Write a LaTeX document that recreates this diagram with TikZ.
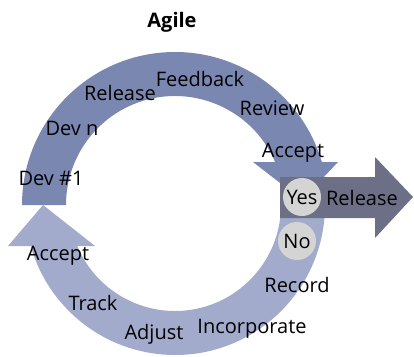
\documentclass[tikz,border=0pt]{standalone}
\usepackage{fontspec}
\setmainfont{Open Sans}
\definecolor{topblue}{HTML}{7A87B0}
\definecolor{lowblue}{HTML}{A2ABCC}
\definecolor{slate}{HTML}{6D6F87}
\definecolor{bubble}{HTML}{D4D4D4}
\tikzset{
  lbl/.style={font=\fontsize{20}{24}\selectfont, inner sep=0pt, anchor=base},
  bubblenode/.style={circle, fill=bubble, minimum size=38pt, inner sep=0pt, font=\fontsize{20}{24}\selectfont}
}

\begin{document}
\begin{tikzpicture}[x=1pt,y=1pt]

	\useasboundingbox (0,0) rectangle (414,-356);
	\coordinate (c) at (175,-205);

	% upper loop
	\fill [topblue] ([shift={(180:153)}]c) arc [start angle=180, end angle=16.3, radius=153]
		-- (338,-162) -- (302,-200) -- (253,-162)
		-- ([shift={(23.2:109)}]c) arc [start angle=23.2, end angle=180, radius=109] -- cycle;

	% lower loop
	\fill [lowblue] ([shift={(-4.6:150)}]c) arc [start angle=-4.6, end angle=-164.1, radius=150]
		-- (8,-246) -- (43,-205) -- (95,-246)
		-- ([shift={(-157.25:106)}]c) arc [start angle=-157.25, end angle=-6.5, radius=106] -- cycle;

	% release arrow
	\fill [slate] (280,-177) -- (375,-177) -- (375,-157) -- (413,-197) -- (375,-238) -- (375,-218) -- (280,-218) -- cycle;

	\node [lbl, font=\fontsize{20}{24}\selectfont\bfseries] (title) at (172,-27) {Agile};

	\node [lbl] (v1) at (51,-185) {Dev \#1};
	\node [lbl] (v2) at (72,-135) {Dev n};
	\node [lbl] (v3) at (120,-100) {Release};
	\node [lbl] (v4) at (200,-86) {Feedback};
	\node [lbl] (v5) at (272,-115) {Review};
	\node [lbl] (v6) at (293,-157) {Accept};

	\node [bubblenode] (yes) at (302,-197) {Yes};
	\node [lbl] (rel) at (362,-205) {Release};
	\node [bubblenode] (no) at (297,-241) {No};

	\node [lbl] (w1) at (297,-292) {Record};
	\node [lbl] (w2) at (252,-333) {Incorporate};
	\node [lbl] (w3) at (154,-339) {Adjust};
	\node [lbl] (w4) at (93,-310) {Track};
	\node [lbl] (w5) at (58,-260) {Accept};

\end{tikzpicture}
\end{document}
